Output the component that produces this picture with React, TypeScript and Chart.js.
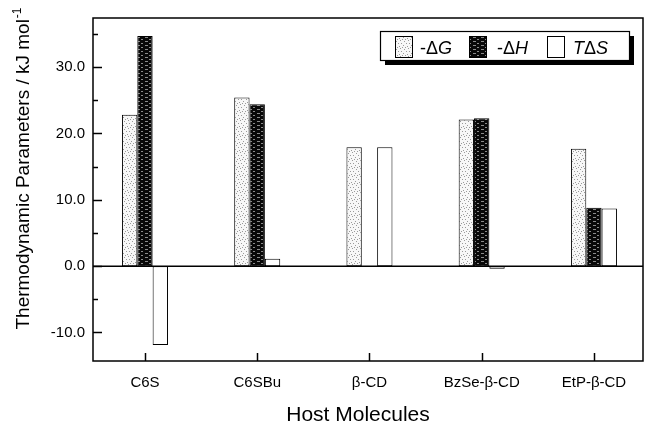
import React, { useEffect, useRef } from 'react';
import { Chart, registerables } from 'chart.js';

Chart.register(...registerables);

const categories = ['C6S', 'C6SBu', 'β-CD', 'BzSe-β-CD', 'EtP-β-CD'];
const negDeltaG = [22.8, 25.4, 17.9, 22.1, 17.7];
const negDeltaH = [34.7, 24.4, 0.0, 22.3, 8.8];
const tDeltaS = [-11.9, 1.1, 17.9, -0.4, 8.7];
const yTickValues = [-10, -5, 0, 5, 10, 15, 20, 25, 30, 35];
const yMin = -14.3;
const yMax = 37.4;
const xMin = 0.537;
const xMax = 5.437;

const FONT = '"Liberation Sans", Arial, Helvetica, sans-serif';

function makeGPattern(ctx: CanvasRenderingContext2D) {
  const c = document.createElement('canvas');
  c.width = 8;
  c.height = 8;
  const g = c.getContext('2d')!;
  g.fillStyle = '#f7f7f7';
  g.fillRect(0, 0, 8, 8);
  g.fillStyle = '#9a9a9a';
  const pts = [[0, 0], [4, 1], [1, 3], [6, 3], [3, 5], [7, 6], [2, 7], [5, 7]];
  pts.forEach(([x, y]) => g.fillRect(x, y, 1, 1));
  return ctx.createPattern(c, 'repeat')!;
}

function makeHPattern(ctx: CanvasRenderingContext2D) {
  const c = document.createElement('canvas');
  c.width = 8;
  c.height = 4;
  const g = c.getContext('2d')!;
  g.fillStyle = '#080808';
  g.fillRect(0, 0, 8, 4);
  g.fillStyle = '#8a8a8a';
  g.fillRect(1, 1, 3, 1);
  g.fillRect(5, 3, 2, 1);
  return ctx.createPattern(c, 'repeat')!;
}

export default function App() {
  const ref = useRef<HTMLCanvasElement | null>(null);

  useEffect(() => {
    const canvas = ref.current!;
    const ctx0 = canvas.getContext('2d')!;
    const gPat = makeGPattern(ctx0);
    const hPat = makeHPattern(ctx0);

    const decor = {
      id: 'decor',
      afterDatasetsDraw(chart: any) {
        const { ctx, chartArea } = chart;
        const xs = chart.scales.x;
        const ys = chart.scales.y;
        const { left, right, top, bottom } = chartArea;
        ctx.save();
        ctx.strokeStyle = '#000';
        ctx.lineWidth = 1.5;
        const y0 = ys.getPixelForValue(0);
        ctx.beginPath();
        ctx.moveTo(left, y0);
        ctx.lineTo(right, y0);
        ctx.stroke();
        ctx.lineWidth = 1.5;
        ctx.strokeRect(left, top, right - left, bottom - top);
        yTickValues.forEach((v) => {
          const py = Math.round(ys.getPixelForValue(v)) + 0.5;
          const len = v % 10 === 0 ? 9 : 5;
          ctx.beginPath();
          ctx.moveTo(left, py);
          ctx.lineTo(left + len, py);
          ctx.stroke();
        });
        categories.forEach((_, i) => {
          const px = Math.round(xs.getPixelForValue(i + 1)) + 0.5;
          ctx.beginPath();
          ctx.moveTo(px, bottom);
          ctx.lineTo(px, bottom - 8);
          ctx.stroke();
        });
        ctx.restore();
      },
      afterDraw(chart: any) {
        const { ctx } = chart;
        ctx.save();
        const lx = 380, ly = 31, lw = 249, lh = 29;
        ctx.fillStyle = '#000';
        ctx.fillRect(lx + 5, ly + 5, lw, lh);
        ctx.fillStyle = '#fff';
        ctx.fillRect(lx, ly, lw, lh);
        ctx.strokeStyle = '#000';
        ctx.lineWidth = 1.2;
        ctx.strokeRect(lx + 0.5, ly + 0.5, lw, lh);
        const sw = [
          { x: 395, fill: gPat },
          { x: 469, fill: hPat },
          { x: 547, fill: '#fff' },
        ];
        sw.forEach((s) => {
          ctx.fillStyle = s.fill;
          ctx.fillRect(s.x, 36, 17, 21);
          ctx.lineWidth = 1;
          ctx.strokeRect(s.x + 0.5, 36.5, 17, 21);
        });
        ctx.fillStyle = '#000';
        ctx.textBaseline = 'alphabetic';
        ctx.textAlign = 'left';
        const base = 54;
        const parts = (x: number, segs: [string, boolean][]) => {
          let cx = x;
          segs.forEach(([t, it]) => {
            ctx.font = (it ? 'italic ' : '') + '18px ' + FONT;
            ctx.fillText(t, cx, base);
            cx += ctx.measureText(t).width;
          });
        };
        parts(420, [['-Δ', false], ['G', true]]);
        parts(497, [['-Δ', false], ['H', true]]);
        parts(573, [['T', true], ['Δ', false], ['S', true]]);

        ctx.save();
        ctx.translate(22, 169);
        ctx.rotate(-Math.PI / 2);
        const main = 'Thermodynamic Parameters / kJ mol';
        const sup = '-1';
        ctx.font = '19px ' + FONT;
        const mw = ctx.measureText(main).width;
        ctx.font = '12px ' + FONT;
        const sw2 = ctx.measureText(sup).width;
        const sx = -(mw + sw2) / 2;
        ctx.textBaseline = 'alphabetic';
        ctx.font = '19px ' + FONT;
        ctx.fillText(main, sx, 7);
        ctx.font = '12px ' + FONT;
        ctx.fillText(sup, sx + mw + 1, -1);
        ctx.restore();

        ctx.font = '21px ' + FONT;
        ctx.textAlign = 'center';
        ctx.textBaseline = 'alphabetic';
        ctx.fillText('Host Molecules', 358, 421);
        ctx.restore();
      },
    };

    const chart = new Chart(canvas, {
      type: 'bar',
      data: {
        datasets: [
          {
            label: '-ΔG',
            data: negDeltaG.map((v, i) => ({ x: i + 1, y: v })),
            backgroundColor: gPat,
            borderColor: '#000',
            borderWidth: 1,
            borderSkipped: false,
          },
          {
            label: '-ΔH',
            data: negDeltaH.map((v, i) => ({ x: i + 1, y: v })),
            backgroundColor: hPat,
            borderColor: '#000',
            borderWidth: 1,
            borderSkipped: false,
          },
          {
            label: 'TΔS',
            data: tDeltaS.map((v, i) => ({ x: i + 1, y: v })),
            backgroundColor: '#fff',
            borderColor: '#000',
            borderWidth: 1,
            borderSkipped: false,
          },
        ],
      },
      options: {
        responsive: false,
        animation: false,
        datasets: { bar: { categoryPercentage: 0.41, barPercentage: 1 } },
        layout: { padding: { left: 0, right: 6, top: 18, bottom: 0 } },
        plugins: { legend: { display: false }, tooltip: { enabled: false } },
        scales: {
          x: {
            type: 'linear',
            min: xMin,
            max: xMax,
            offset: false,
            grid: { display: false, drawTicks: false },
            border: { display: false },
            afterBuildTicks: (s: any) => {
              s.ticks = categories.map((_, i) => ({ value: i + 1 }));
            },
            afterFit: (s: any) => {
              s.height = 64;
            },
            ticks: {
              autoSkip: false,
              maxRotation: 0,
              padding: 13,
              color: '#000',
              font: { family: FONT, size: 15 },
              callback: (v: any) => categories[Math.round(Number(v)) - 1] ?? '',
            },
          },
          y: {
            type: 'linear',
            min: yMin,
            max: yMax,
            grid: { display: false, drawTicks: false },
            border: { display: false },
            afterBuildTicks: (s: any) => {
              s.ticks = yTickValues.map((v) => ({ value: v }));
            },
            afterFit: (s: any) => {
              s.width = 93;
            },
            ticks: {
              padding: 8,
              color: '#000',
              font: { family: FONT, size: 15 },
              callback: (v: any) => (Number(v) % 10 === 0 ? Number(v).toFixed(1) : ''),
            },
          },
        },
      },
      plugins: [decor],
    });
    return () => chart.destroy();
  }, []);

  return (
    <div style={{ position: 'fixed', left: 0, top: 0, width: 649, height: 425, background: '#fff' }}>
      <canvas ref={ref} width={649} height={425} style={{ width: 649, height: 425 }} />
    </div>
  );
}
